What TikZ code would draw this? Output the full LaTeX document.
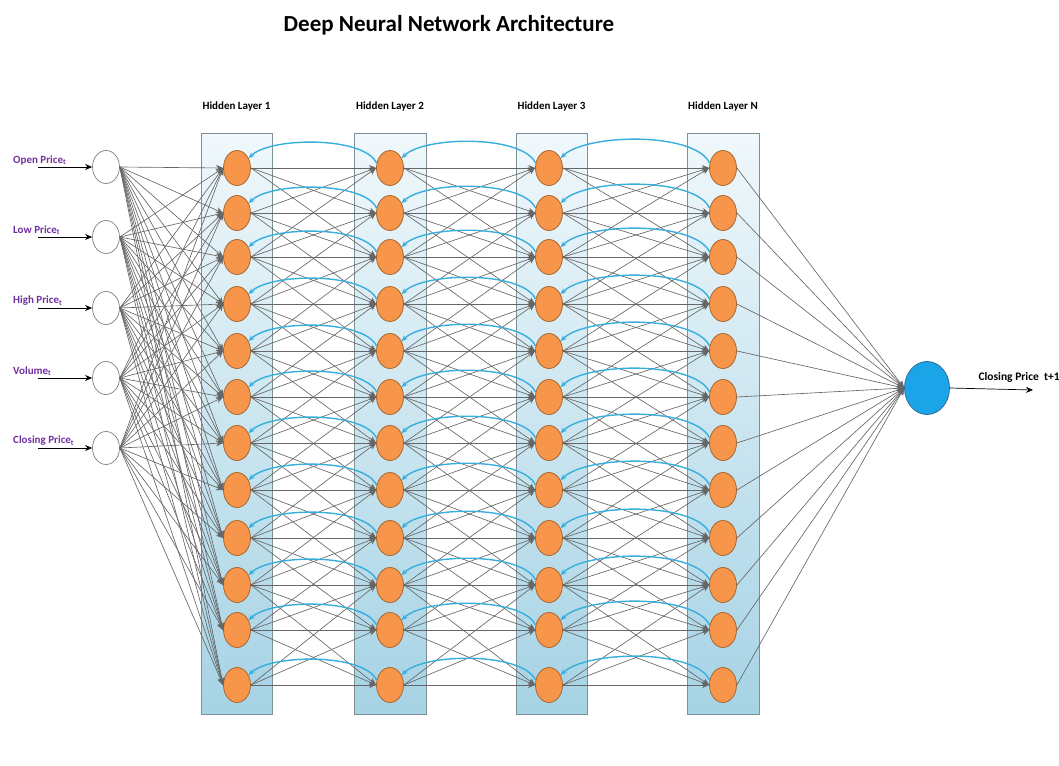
\documentclass[tikz,border=0pt]{standalone}
\usepackage{fontspec}
\setmainfont{Carlito}
\usetikzlibrary{shapes.geometric,arrows.meta}

\definecolor{neuronorange}{HTML}{F7964A}
\definecolor{neuronedge}{HTML}{A8672F}
\definecolor{outblue}{HTML}{1BA4E8}
\definecolor{outedge}{HTML}{2A6C9C}
\definecolor{boxtop}{HTML}{F0F8FB}
\definecolor{boxbottom}{HTML}{A6D3E5}
\definecolor{boxedge}{HTML}{7F8F96}
\definecolor{linkgray}{HTML}{666666}
\definecolor{fbblue}{HTML}{38AEDC}
\definecolor{labelpurple}{HTML}{7030A0}

\begin{document}
\begin{tikzpicture}[x=1pt, y=1pt, >={Stealth[length=7pt,width=6pt]},
    every node/.style={font=\bfseries},
    neuron/.style={ellipse, draw=neuronedge, fill=neuronorange, line width=0.8pt, minimum width=27pt, minimum height=35pt, inner sep=0pt},
    inputunit/.style={ellipse, draw=gray, fill=white, line width=0.7pt, minimum width=27pt, minimum height=33pt, inner sep=0pt},
    layerbox/.style={draw=boxedge, line width=0.8pt, top color=boxtop, bottom color=boxbottom},
    link/.style={->, draw=linkgray, line width=0.65pt},
    feedback/.style={->, draw=fbblue, line width=1.4pt, >={Stealth[length=6pt,width=5pt]}}]
  \useasboundingbox (0,0) rectangle (1059,-765);

  % 1. title
  \node (title) at (449,-25) {\fontsize{23}{27}\selectfont Deep Neural Network Architecture};

  % 2. layer boxes and their titles
  \foreach \l/\xl/\xr/\lab in {1/201/272/1, 2/354/426/2, 3/516/587/3, 4/687/759/N}{
    \draw[layerbox] (\xl,-133) rectangle (\xr,-714);
    \node[font=\bfseries\fontsize{11}{13}\selectfont] (layer\l) at ({(\xl+\xr)/2},-107) {Hidden Layer \lab};
  }

  % 3. hidden neurons
  \foreach \l/\xc in {1/237, 2/390, 3/549, 4/723}
    \foreach \i/\yc in {1/168, 2/213, 3/257, 4/304, 5/351, 6/397, 7/443, 8/490, 9/538, 10/585, 11/630, 12/685}
      \node[neuron] (n\l-\i) at (\xc,-\yc) {};

  % 4. inputs with their labels
  \foreach \i/\yc/\txt in {1/167/Open Price, 2/237/Low Price, 3/308/High Price, 4/378/Volume, 5/448/Closing Price}{
    \node[inputunit] (in\i) at (106,-\yc) {};
    \node[anchor=south west, text=labelpurple, inner sep=1pt, font=\bfseries\fontsize{11}{13}\selectfont] (lab\i) at (12,-\yc+1) {\txt\textsubscript{t}};
    \coordinate (src\i) at (38,-\yc);
    \draw[->, line width=0.8pt] (src\i) -- (in\i);
  }

  % 5. input -> hidden layer 1
  \foreach \i in {1,...,5}
    \foreach \j in {1,...,12}
      \draw[link] (in\i.east) -- (n1-\j.west);

  % 6. hidden -> hidden (neighbouring rows)
  \foreach \l/\m in {1/2, 2/3, 3/4}
    \foreach \i in {1,...,12}
      \foreach \d in {-2,...,2}{
        \pgfmathtruncatemacro\j{\i+\d}
        \ifnum\j>0 \ifnum\j<13 \draw[link] (n\l-\i.east) -- (n\m-\j.west); \fi\fi
      }

  % 7. feedback arcs
  \foreach \l/\m in {1/2, 2/3, 3/4}
    \foreach \i in {1,...,12}
      \draw[feedback] (n\m-\i.160) to[out=115, in=45, looseness=0.6] (n\l-\i.40);

  % 8. output unit
  \node[ellipse, draw=outedge, fill=outblue, line width=0.8pt, minimum width=45pt, minimum height=53pt] (out) at (927,-388) {};
  \foreach \i in {1,...,12}
    \draw[link] (n4-\i.east) -- (out.west);
  \coordinate (target) at (1033,-390);
  \draw[->, line width=0.7pt] (out.east) -- (target);
  \node[anchor=south west, font=\bfseries\fontsize{11.5}{13}\selectfont] (outlab) at (975,-386) {Closing Price\ \ t+1};
\end{tikzpicture}
\end{document}
